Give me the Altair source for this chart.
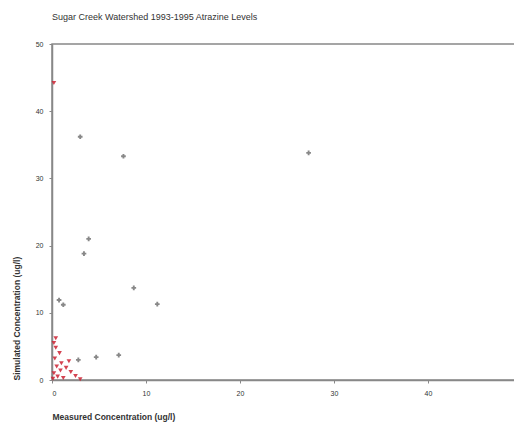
import altair as alt
import pandas as pd

# Gray (x) series
gray_x = [3.0, 7.6, 27.3, 3.9, 3.4, 8.7, 11.2, 0.75, 1.2, 2.8, 4.7, 7.1]
gray_y = [36.2, 33.3, 33.8, 21.0, 18.8, 13.7, 11.3, 11.9, 11.2, 3.0, 3.4, 3.7]

# Red series
red_x = [0.2, 0.2, 0.4, 0.8, 0.3, 1.0, 0.5, 1.5, 2.0, 0.2, 0.6, 1.2, 2.5, 0.1, 3.0, 1.8, 0.9, 0.4]
red_y = [44.2, 5.5, 4.8, 4.0, 3.2, 2.5, 2.0, 1.8, 1.2, 1.0, 0.5, 0.3, 0.6, 0.2, 0.1, 2.8, 1.4, 6.2]

title = "Sugar Creek Watershed 1993-1995 Atrazine Levels"
x_title = "Measured Concentration (ug/l)"
y_title = "Simulated Concentration (ug/l)"
ticks = [0, 10, 20, 30, 40, 50]

gray = pd.DataFrame({"x": gray_x, "y": gray_y})
red = pd.DataFrame({"x": red_x, "y": red_y})

xenc = alt.X("x:Q", scale=alt.Scale(domain=[0, 50], nice=False),
             axis=alt.Axis(values=ticks, title=x_title, titleAnchor="start",
                           titleAlign="left", titlePadding=16, labelPadding=6))
yenc = alt.Y("y:Q", scale=alt.Scale(domain=[0, 50], nice=False),
             axis=alt.Axis(values=ticks, title=y_title, titleAnchor="start",
                           titlePadding=14, labelPadding=6))

g = alt.Chart(gray).mark_point(shape="cross", filled=True, size=22, color="#555555").encode(x=xenc, y=yenc)
r = alt.Chart(red).mark_point(shape="triangle-down", filled=True, size=22, color="#cc2233", opacity=0.85).encode(x=xenc, y=yenc)

chart = alt.layer(g, r).properties(
    width=470, height=336,
    title=alt.TitleParams(title, anchor="start", frame="group", fontSize=9, fontWeight="normal",
                          color="#333333", offset=18, font="Arial"),
    autosize=alt.AutoSizeParams(type="none"),
    padding={"left": 44, "top": 36, "right": -8, "bottom": 45},
).configure_axis(
    grid=False, domainColor="#888888", domainWidth=1.5, tickColor="#888888",
    tickSize=3, labelFontSize=7, labelColor="#333333", titleFontSize=8.5,
    titleColor="#333333", titleFontWeight="bold", labelFont="Arial", titleFont="Arial",
).configure_view(stroke="#888888", strokeWidth=1.5)

chart.save("out.html", embed_options={"renderer": "svg", "actions": False})
